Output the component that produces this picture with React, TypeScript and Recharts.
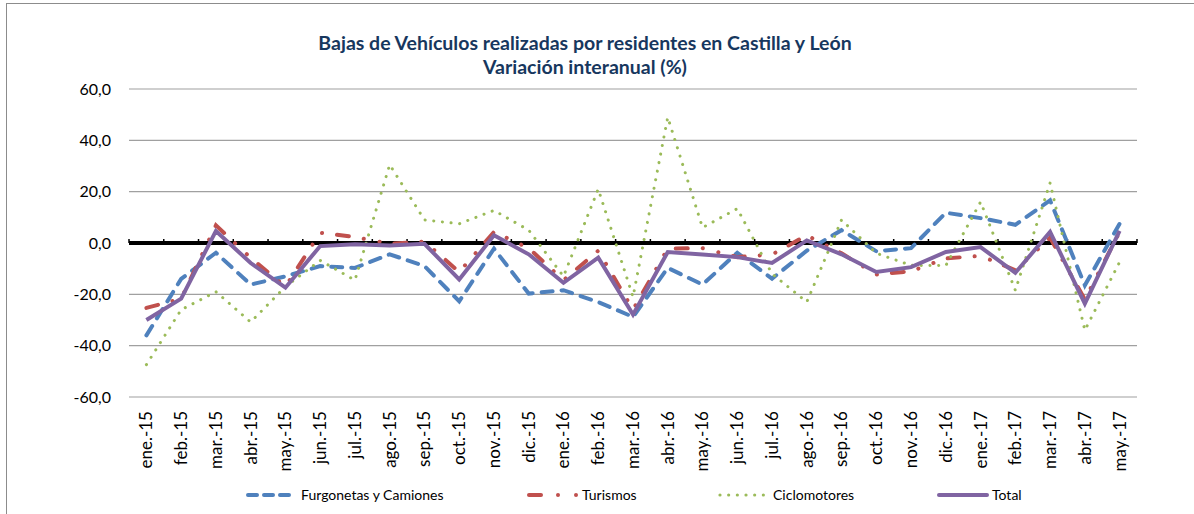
import { LineChart, Line, XAxis, YAxis, CartesianGrid, ReferenceLine } from 'recharts'

const months = [
  'ene.-15', 'feb.-15', 'mar.-15', 'abr.-15', 'may.-15', 'jun.-15', 'jul.-15', 'ago.-15',
  'sep.-15', 'oct.-15', 'nov.-15', 'dic.-15', 'ene.-16', 'feb.-16', 'mar.-16', 'abr.-16',
  'may.-16', 'jun.-16', 'jul.-16', 'ago.-16', 'sep.-16', 'oct.-16', 'nov.-16', 'dic.-16',
  'ene.-17', 'feb.-17', 'mar.-17', 'abr.-17', 'may.-17',
]

const furgonetas = [
  -36, -14, -3.8, -16.2, -13, -9, -9.7, -4.4, -9, -22.7, -2.2, -19.7, -18.4, -23, -28.8,
  -9.7, -16.2, -3.8, -13.9, -3, 5, -3.2, -2, 11.8, 9.7, 7.1, 16.6, -16.5, 7.5,
]
const turismos = [
  -25.3, -21.7, 6.9, -5.8, -17, 4, 2.3, -0.3, 0.6, -11.3, 4.3, -2, -14.5, -3, -26,
  -2.2, -2, -5.5, -4.5, 3, -4, -12.3, -11, -6, -5, -10.6, 2, -22, 4.3,
]
const ciclomotores = [
  -47.4, -26, -19, -30.8, -17, -6.8, -14.5, 30.5, 9, 7.5, 12.7, 5, -13, 21, -21,
  49, 6, 13.4, -12, -23, 9, -4, -8.7, -8.8, 16, -18.4, 23.4, -34, -7.4,
]
const total = [
  -30, -21.7, 4.7, -7.8, -17.4, -1.2, -0.5, -1, -0.3, -14.2, 3, -4.4, -15.5, -5.7, -27.9,
  -3.5, -4.5, -5.5, -7.8, 1, -4.4, -11.3, -9.4, -3.5, -1.6, -11.6, 4.3, -23.6, 4.7,
]

const yTicks = [-60, -40, -20, 0, 20, 40, 60]

const data = months.map((m, i) => ({
  month: m,
  furgonetas: furgonetas[i],
  turismos: turismos[i],
  ciclomotores: ciclomotores[i],
  total: total[i],
}))

const FONT = 'Lato, "Open Sans", sans-serif'
const BLUE = '#4F81BD'
const RED = '#C0504D'
const GREEN = '#9BBB59'
const PURPLE = '#8064A2'

const fmt = (v: number) => v.toFixed(1).replace('.', ',')

// eslint-disable-next-line @typescript-eslint/no-explicit-any
function MonthTick({ x, y, payload }: any) {
  return (
    <text
      x={x}
      y={y}
      transform={`rotate(-90 ${x} ${y})`}
      textAnchor="end"
      dy="0.35em"
      fontSize={17}
      fill="#000"
      fontFamily={FONT}
    >
      {payload.value}
    </text>
  )
}

// zero axis: thick black line with small tick marks at category borders
// eslint-disable-next-line @typescript-eslint/no-explicit-any
function ZeroLine(props: any) {
  const { x1, x2, y1 } = props
  const n = months.length
  const step = (x2 - x1) / n
  return (
    <g>
      <line x1={x1} x2={x2} y1={y1} y2={y1} stroke="#000" strokeWidth={4} />
      {Array.from({ length: n + 1 }, (_, i) => (
        <line
          key={i}
          x1={x1 + i * step}
          x2={x1 + i * step}
          y1={y1}
          y2={y1 - 4}
          stroke="#000"
          strokeWidth={1.5}
        />
      ))}
    </g>
  )
}

function Legend() {
  const item = { position: 'absolute' as const, top: 486, display: 'flex', alignItems: 'center', fontSize: 14, whiteSpace: 'nowrap' as const }
  return (
    <>
      <div style={{ ...item, left: 246 }}>
        <svg width={48} height={10}>
          <line x1={2} x2={46} y1={5} y2={5} stroke={BLUE} strokeWidth={4} strokeLinecap="round" strokeDasharray="9 7" />
        </svg>
        <span style={{ marginLeft: 7 }}>Furgonetas y Camiones</span>
      </div>
      <div style={{ ...item, left: 527 }}>
        <svg width={52} height={10}>
          <line x1={2} x2={14} y1={5} y2={5} stroke={RED} strokeWidth={4} strokeLinecap="round" />
          <circle cx={31} cy={5} r={2} fill={RED} />
          <circle cx={49} cy={5} r={2} fill={RED} />
        </svg>
        <span style={{ marginLeft: 3 }}>Turismos</span>
      </div>
      <div style={{ ...item, left: 718 }}>
        <svg width={48} height={10}>
          {[0, 1, 2, 3, 4, 5].map((k) => (
            <circle key={k} cx={2 + k * 8.67} cy={5} r={1.6} fill={GREEN} />
          ))}
        </svg>
        <span style={{ marginLeft: 7 }}>Ciclomotores</span>
      </div>
      <div style={{ ...item, left: 937 }}>
        <svg width={52} height={10}>
          <line x1={2} x2={50} y1={5} y2={5} stroke={PURPLE} strokeWidth={4} strokeLinecap="round" />
        </svg>
        <span style={{ marginLeft: 3 }}>Total</span>
      </div>
    </>
  )
}

export default function App() {
  return (
    <div style={{ position: 'absolute', left: 0, top: 0, width: 1194, height: 514, overflow: 'hidden', fontFamily: FONT, color: '#000', background: '#fff' }}>
      <div style={{ position: 'absolute', left: 6, top: 3, width: 1200, height: 520, border: '1px solid #8c8c8c' }} />
      <div
        style={{
          position: 'absolute',
          left: 0,
          width: 1170,
          top: 31,
          textAlign: 'center',
          fontWeight: 700,
          fontSize: 19.5,
          lineHeight: '24px',
          color: '#17375E',
        }}
      >
        <div>Bajas de Vehículos realizadas por residentes en Castilla y León</div>
        <div>Variación interanual (%)</div>
      </div>
      <div style={{ position: 'absolute', left: 0, top: 0 }}>
        <LineChart width={1194} height={514} data={data} margin={{ top: 89, right: 57, bottom: 27, left: 0 }}>
          <CartesianGrid vertical={false} stroke="#a0a0a0" strokeWidth={1.2} />
          <XAxis
            dataKey="month"
            interval={0}
            axisLine={false}
            tickLine={false}
            tickSize={0}
            tickMargin={14}
            height={90}
            padding={{ left: 17.4, right: 17.4 }}
            tick={<MonthTick />}
          />
          <YAxis
            domain={[-60, 60]}
            ticks={yTicks}
            width={129}
            axisLine={false}
            tickLine={false}
            tickMargin={12}
            tickFormatter={fmt}
            tick={{ fontSize: 16, fill: '#000', fontFamily: FONT }}
          />
          <ReferenceLine y={0} shape={<ZeroLine />} />
          <Line
            dataKey="furgonetas"
            type="linear"
            stroke={BLUE}
            strokeWidth={4}
            strokeLinecap="round"
            strokeDasharray="11 9"
            dot={false}
            activeDot={false}
            isAnimationActive={false}
          />
          <Line
            dataKey="turismos"
            type="linear"
            stroke={RED}
            strokeWidth={4}
            strokeLinecap="round"
            strokeDasharray="12 15 0.1 16 0.1 15"
            dot={false}
            activeDot={false}
            isAnimationActive={false}
          />
          <Line
            dataKey="ciclomotores"
            type="linear"
            stroke={GREEN}
            strokeWidth={3}
            strokeLinecap="round"
            strokeDasharray="0.1 8.6"
            dot={false}
            activeDot={false}
            isAnimationActive={false}
          />
          <Line
            dataKey="total"
            type="linear"
            stroke={PURPLE}
            strokeWidth={4}
            dot={false}
            activeDot={false}
            isAnimationActive={false}
          />
        </LineChart>
      </div>
      <Legend />
    </div>
  )
}
